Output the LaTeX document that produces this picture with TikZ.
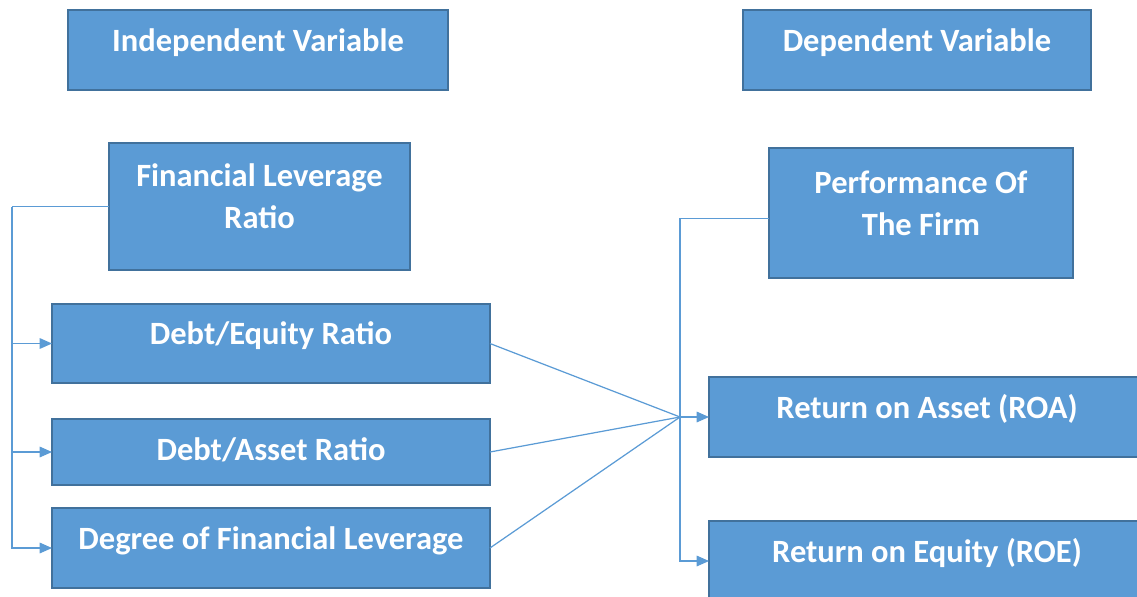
\documentclass[tikz,border=0pt]{standalone}
\usepackage{fontspec}
\setmainfont{Carlito}
\usetikzlibrary{arrows.meta}

\definecolor{boxblue}{HTML}{5B9BD5}
\definecolor{edgeblue}{HTML}{41719C}

\tikzset{
  varbox/.style={rectangle,draw=edgeblue,line width=1pt,fill=boxblue,
    inner sep=0pt,outer sep=0pt,align=center,text=white,text depth=11.5pt,
    font=\fontsize{18.5}{24}\selectfont\bfseries},
  link/.style={draw=boxblue,line width=0.7pt},
  arrow/.style={link,-{Triangle[length=7pt,width=6pt]}}
}

\begin{document}
\begin{tikzpicture}[x=0.02cm,y=-0.02cm]
\useasboundingbox (0,0) rectangle (1137,596);
% headings
\node[varbox,minimum width=7.6cm,minimum height=1.6cm] (iv) at (258,50) {Independent Variable};
\node[varbox,minimum width=6.96cm,minimum height=1.6cm] (dv) at (917,50) {Dependent Variable};
% independent side
\node[varbox,minimum width=6.02cm,minimum height=2.54cm] (flr) at (259.5,206.5) {Financial Leverage\\Ratio};
\node[varbox,minimum width=8.76cm,minimum height=1.58cm] (de) at (271,343.5) {Debt/Equity Ratio};
\node[varbox,minimum width=8.76cm,minimum height=1.32cm,text depth=3.5pt] (da) at (271,452) {Debt/Asset Ratio};
\node[varbox,minimum width=8.76cm,minimum height=1.6cm] (dfl) at (271,548) {Degree of Financial Leverage};
% dependent side
\node[varbox,minimum width=6.08cm,minimum height=2.6cm] (perf) at (921,213) {Performance Of\\The Firm};
\node[varbox,minimum width=8.72cm,minimum height=1.6cm] (roa) at (927,417) {Return on Asset (ROA)};
\node[varbox,minimum width=8.72cm,minimum height=1.6cm] (roe) at (927,561) {Return on Equity (ROE)};

% left bus
\draw[link] (flr.west) -- ++(-97,0) coordinate (lbus);
\foreach \n in {de,da,dfl}
  \draw[arrow] (lbus) |- (\n.west);

% right bus
\draw[link] ([yshift=-3]perf.west) -- ++(-89,0) coordinate (rbus);
\coordinate (hub) at (roa.west -| rbus);
\draw[arrow] (rbus) |- (roe.west);
\foreach \n in {de,da,dfl}
  \draw[link] (\n.east) -- (hub);
\draw[arrow] (hub) -- (roa.west);
\end{tikzpicture}
\end{document}
